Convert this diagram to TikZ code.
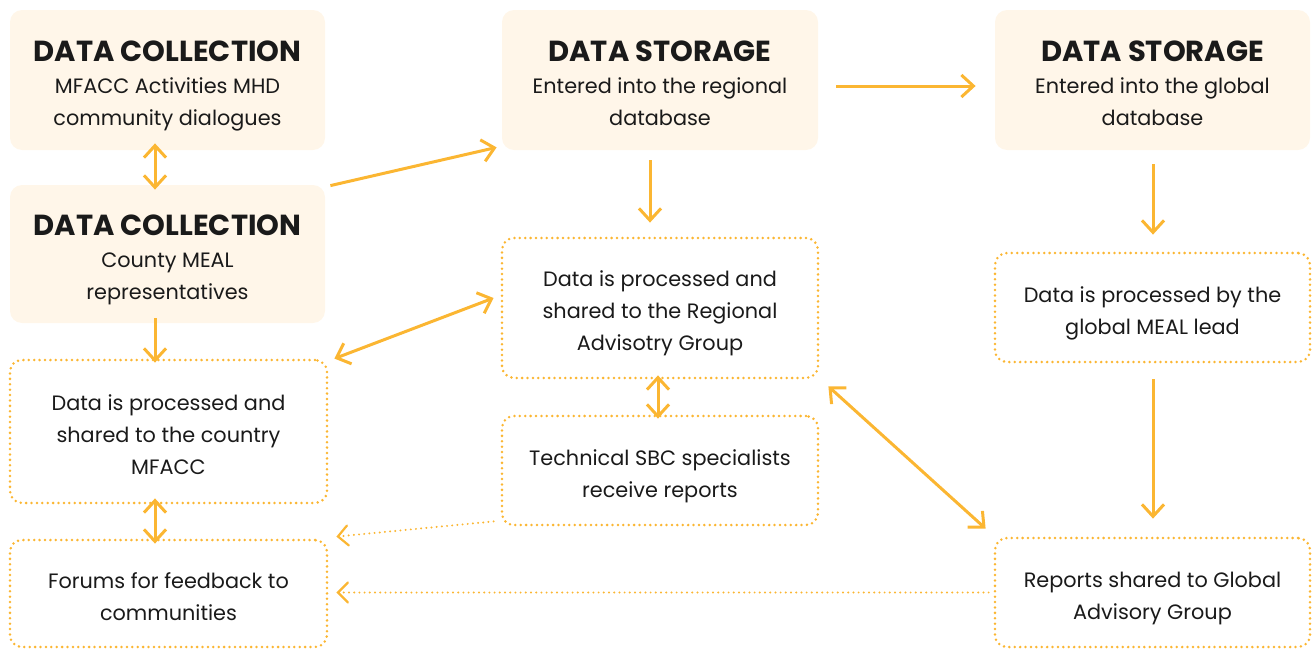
\documentclass[tikz,border=0pt]{standalone}
\usepackage{fontspec}
\setmainfont{Poppins}
\usetikzlibrary{arrows.meta,calc}
\definecolor{boxfill}{HTML}{FFF6E9}
\definecolor{flow}{HTML}{FBB632}
\definecolor{ink}{HTML}{1A1A1A}
% heading line of a solid box, with a strut that sets the block's top
\newcommand{\hd}[1]{\rule{0pt}{13.3pt}{\fontsize{14.5}{17}\selectfont\bfseries #1}}
% strut for the first line of a plain text block
\newcommand{\tl}{\rule{0pt}{10.6pt}}
\tikzset{
  base/.style={rectangle, rounded corners=6pt, align=center, text=ink,
    font=\fontsize{10.4}{16}\selectfont, inner sep=0pt, text depth=0pt},
  solidbox/.style={base, fill=boxfill, draw=none},
  dotbox/.style={base, draw=flow, line width=1.4pt, line cap=round,
    dash pattern=on 0pt off 2.7pt},
  flowarrow/.style={draw=flow, line width=1.5pt,
    -{Straight Barb[length=6pt,width=11pt,line width=1.5pt]}},
  twoway/.style={draw=flow, line width=1.5pt,
    {Straight Barb[length=6pt,width=11pt,line width=1.5pt]}-{Straight Barb[length=6pt,width=11pt,line width=1.5pt]}},
  dotarrow/.style={draw=flow, line width=1.1pt, line cap=round,
    dash pattern=on 0pt off 2.6pt,
    -{Straight Barb[length=5pt,width=10pt,line width=1.1pt,line cap=round]}},
}
\begin{document}
\begin{tikzpicture}[x=0.5pt, y=-0.5pt]
\useasboundingbox (0,0) rectangle (1312,648);

% solid storage / collection boxes
\node[solidbox, minimum width=157.5pt, minimum height=70pt] (dc1) at (167.5,80)
  {\hd{DATA COLLECTION}\\MFACC Activities MHD\\community dialogues};
\node[solidbox, minimum width=157.5pt, minimum height=69pt] (dc2) at (167.5,254)
  {\hd{DATA COLLECTION}\\County MEAL\\representatives};
\node[solidbox, minimum width=158pt, minimum height=70pt] (ds1) at (660,80)
  {\hd{DATA STORAGE}\\Entered into the regional\\database};
\node[solidbox, minimum width=157.5pt, minimum height=70pt] (ds2) at (1152.5,80)
  {\hd{DATA STORAGE}\\Entered into the global\\database};

% dotted processing boxes
\node[dotbox, minimum width=158.5pt, minimum height=71.5pt] (p1) at (168.5,431.5)
  {\tl Data is processed and\\shared to the country\\MFACC};
\node[dotbox, minimum width=158.5pt, minimum height=53.5pt] (forums) at (168.5,593.5)
  {\tl Forums for feedback to\\communities};
\node[dotbox, minimum width=158pt, minimum height=70pt] (p2) at (660,308)
  {\tl Data is processed and\\shared to the Regional\\Advisotry Group};
\node[dotbox, minimum width=158pt, minimum height=54.5pt] (tech) at (660,470.5)
  {\tl Technical SBC specialists\\receive reports};
\node[dotbox, minimum width=157.5pt, minimum height=54.5pt] (p3) at (1152.5,307.5)
  {\tl Data is processed by the\\global MEAL lead};
\node[dotbox, minimum width=157.5pt, minimum height=54.5pt] (reports) at (1152.5,592.5)
  {\tl Reports shared to Global\\Advisory Group};

% connectors
\draw[twoway] ($(dc1.south)+(-12.5,-7)$) -- ($(dc2.north)+(-12.5,5)$);
\draw[flowarrow] ($(dc2.north east)+(5,1)$) -- ($(ds1.south west)+(-5,-3)$);
\draw[flowarrow] ($(ds1.east)+(18,6)$) -- ($(ds2.west)+(-19,6)$);
\draw[flowarrow] ($(ds1.south)+(-10,10)$) -- ($(p2.north)+(-10,-14)$);
\draw[flowarrow] ($(ds2.south)+(0.5,14)$) -- ($(p3.north)+(0.5,-17)$);
\draw[flowarrow] ($(dc2.south)+(-12.5,-5)$) -- ($(p1.north)+(-13.5,4)$);
\draw[twoway] ($(p1.north east)+(6,0)$) -- ($(p2.west)+(-7,-10)$);
\draw[twoway] ($(p2.south)+(-2,-4)$) -- ($(tech.north)+(-2,4)$);
\draw[twoway] ($(p2.south east)+(9,7)$) -- ($(reports.north west)+(-8,-8)$);
\draw[twoway] ($(p1.south)+(-13.5,-6)$) -- ($(forums.north)+(-13.5,5)$);
\draw[flowarrow] ($(p3.south)+(0.5,16)$) -- ($(reports.north)+(0.5,-18)$);
\draw[dotarrow] ($(tech.south west)+(-7,-5)$) -- ($(forums.north east)+(8,-2)$);
\draw[dotarrow] ($(reports.west)+(-5,0)$) -- ($(forums.east)+(8,-1)$);
\end{tikzpicture}
\end{document}
